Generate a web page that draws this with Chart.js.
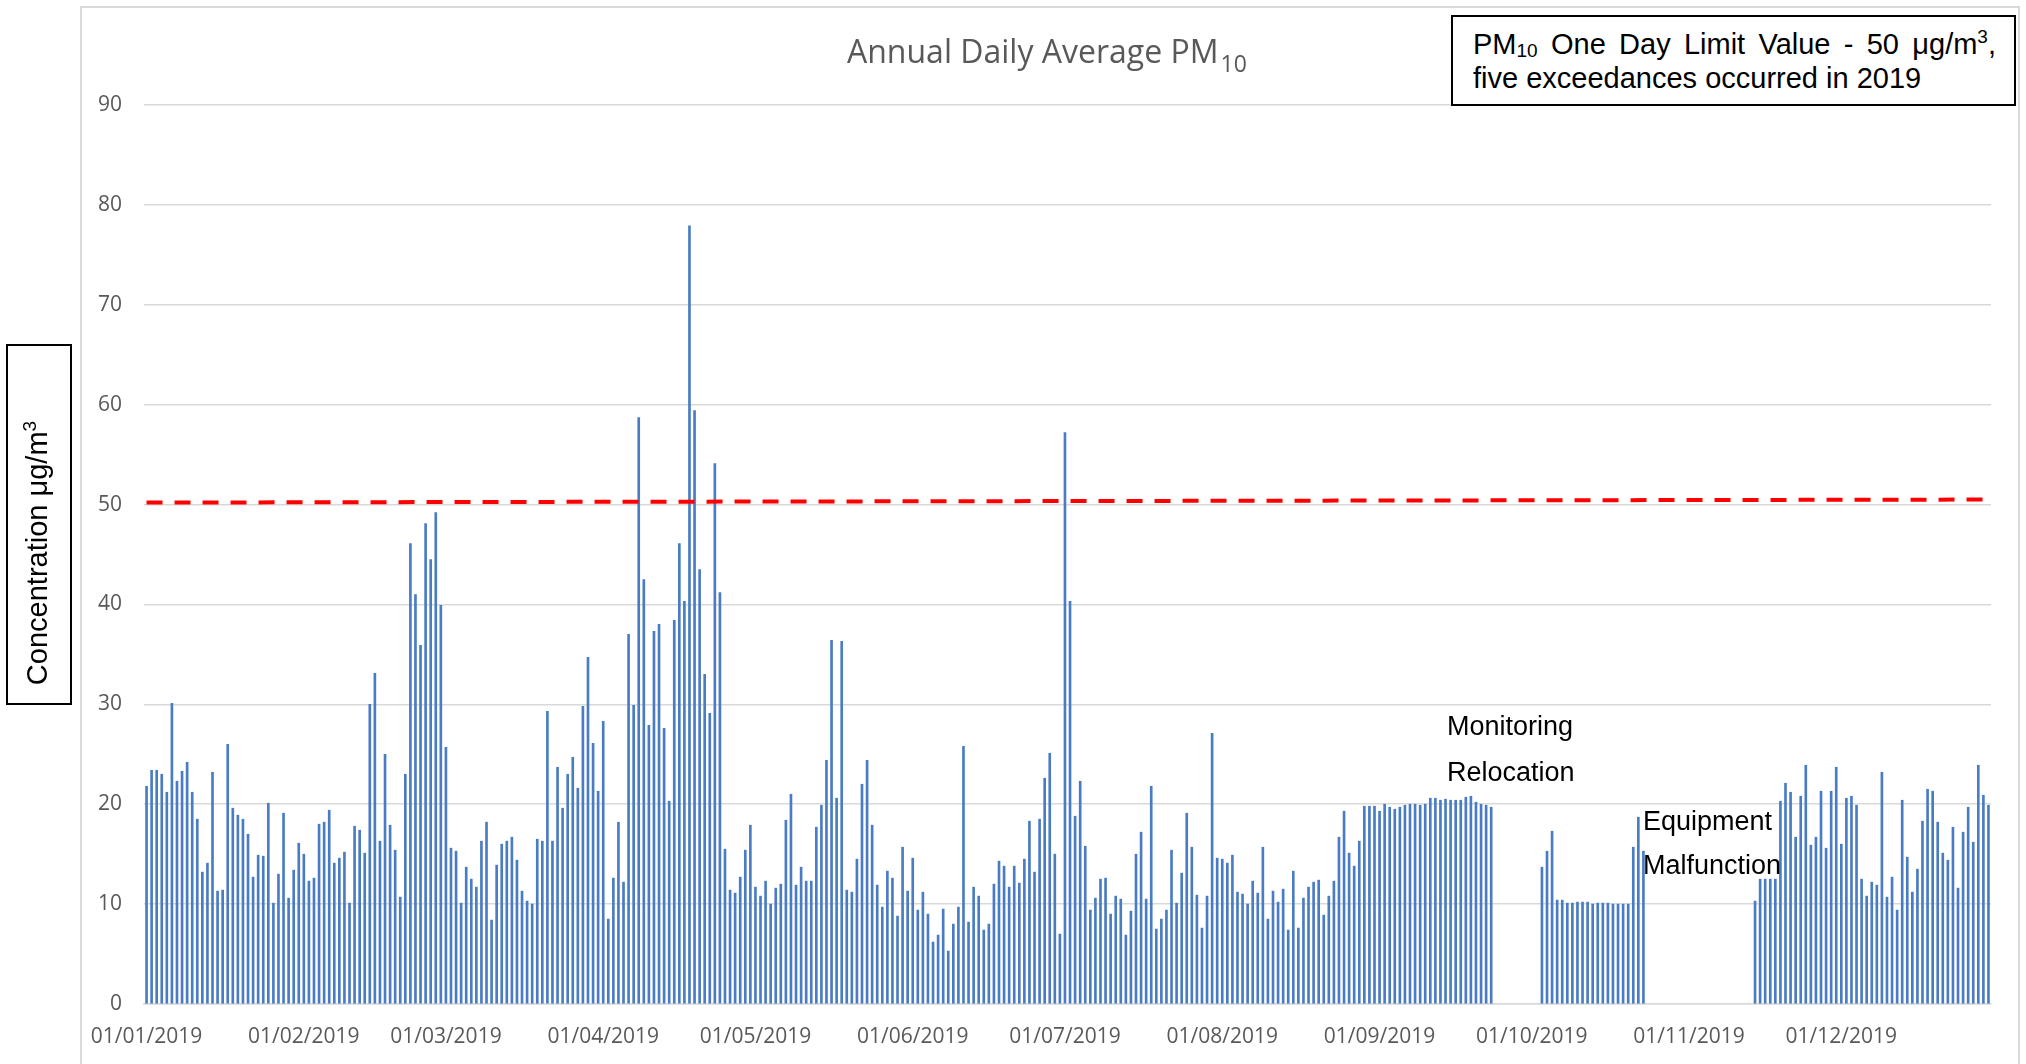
<!DOCTYPE html>
<html>
<head>
<meta charset="utf-8">
<script src="https://cdn.jsdelivr.net/npm/chart.js@4.4.1/dist/chart.umd.min.js"></script>
<style>
  body { margin: 0; background: #fff; }
  #wrap { position: relative; width: 2026px; height: 1064px; overflow: hidden; }
  #frame {
    position: absolute; left: 80px; top: 6px; width: 1940px; height: 1100px;
    border: 2px solid #d9d9d9; box-sizing: border-box;
  }
  #chart { position: absolute; left: 0; top: 0; }
  #title {
    position: absolute; left: 847px; top: 35px; white-space: nowrap;
    font: 32px/32px "Open Sans", sans-serif; color: #595959;
  }
  #title span { font-size: 23px; position: relative; top: 9px; margin-left: 2px; }
  #limitBox {
    position: absolute; left: 1451px; top: 15px; width: 565px; height: 91px;
    border: 2px solid #000; box-sizing: border-box; background: #fff;
    padding: 10px 18px 0 20px;
    font: 29px/34px "Liberation Sans", Arial, sans-serif; color: #000;
  }
  #limitBox .l1 { text-align: justify; text-align-last: justify; }
  #limitBox sub { font-size: 19px; line-height: 0; vertical-align: -3px; }
  #limitBox sup { font-size: 19px; line-height: 0; vertical-align: 11px; }
  #ylab {
    position: absolute; left: 6px; top: 344px; width: 66px; height: 361px;
    border: 2px solid #000; box-sizing: border-box;
  }
  #ylab div {
    position: absolute; left: 25px; top: 207px; white-space: nowrap;
    transform: translate(-50%, -50%) rotate(-90deg);
    font: 29px/29px "Liberation Sans", Arial, sans-serif; color: #000;
  }
  #ylab sup { font-size: 19px; vertical-align: 11px; }
  .note {
    position: absolute; white-space: nowrap;
    font: 27px/27px "Liberation Sans", Arial, sans-serif; color: #000;
  }
</style>
</head>
<body>
<div id="wrap">
  <div id="frame"></div>
  <canvas id="chart" width="2026" height="1064"></canvas>
  <div id="title">Annual Daily Average PM<span>10</span></div>
  <div id="limitBox">
    <div class="l1">PM<sub>10</sub> One Day Limit Value - 50 μg/m<sup>3</sup>,</div>
    <div>five exceedances occurred in 2019</div>
  </div>
  <div id="ylab"><div>Concentration μg/m<sup>3</sup></div></div>
  <div class="note" style="left:1447px;top:713px">Monitoring</div>
  <div class="note" style="left:1447px;top:759px">Relocation</div>
  <div class="note" style="left:1643px;top:808px">Equipment</div>
  <div class="note" style="left:1643px;top:852px">Malfunction</div>
</div>

<script>
// daily PM10 averages, µg/m3 (null = no data)
const jan = [21.8, 23.4, 23.4, 23.0, 21.2, 30.1, 22.3, 23.3, 24.2, 21.2, 18.5, 13.2, 14.1, 23.2, 11.3, 11.4, 26.0, 19.6, 18.9, 18.5, 17.0, 12.7, 14.9, 14.8, 20.1, 10.1, 13.0, 19.1, 10.6, 13.4, 16.1];
const feb = [15.0, 12.3, 12.6, 18.0, 18.2, 19.4, 14.1, 14.6, 15.2, 10.1, 17.8, 17.4, 15.1, 30.0, 33.1, 16.3, 25.0, 17.9, 15.4, 10.7, 23.0, 46.1, 41.0, 35.9, 48.1, 44.5, 49.2, 39.9];
const mar = [25.7, 15.6, 15.3, 10.1, 13.7, 12.5, 11.7, 16.3, 18.2, 8.4, 13.9, 16.0, 16.3, 16.7, 14.4, 11.3, 10.3, 10.0, 16.5, 16.3, 29.3, 16.3, 23.7, 19.6, 23.0, 24.7, 21.6, 29.8, 34.7, 26.1, 21.3];
const apr = [28.3, 8.5, 12.6, 18.2, 12.2, 37.0, 29.9, 58.7, 42.5, 27.9, 37.3, 38.0, 27.6, 20.3, 38.4, 46.1, 40.3, 77.9, 59.4, 43.5, 33.0, 29.1, 54.1, 41.2, 15.5, 11.4, 11.1, 12.7, 15.4, 17.9];
const may = [11.7, 10.8, 12.3, 10.0, 11.6, 12.0, 18.4, 21.0, 11.9, 13.7, 12.3, 12.3, 17.7, 19.9, 24.4, 36.4, 20.6, 36.3, 11.4, 11.2, 14.5, 22.0, 24.4, 17.9, 11.9, 9.7, 13.3, 12.6, 8.8, 15.7, 11.3];
const jun = [14.6, 9.4, 11.2, 9.0, 6.2, 6.9, 9.5, 5.3, 8.0, 9.7, 25.8, 8.2, 11.7, 10.8, 7.4, 8.0, 12.0, 14.3, 13.8, 11.7, 13.8, 12.1, 14.5, 18.3, 13.2, 18.5, 22.6, 25.1, 15.0, 7.0];
const jul = [57.2, 40.3, 18.8, 22.3, 15.8, 9.4, 10.6, 12.5, 12.6, 9.0, 10.8, 10.5, 6.9, 9.3, 15.0, 17.2, 10.5, 21.8, 7.5, 8.5, 9.4, 15.4, 10.1, 13.1, 19.1, 15.7, 10.9, 7.6, 10.8, 27.1, 14.6];
const aug = [14.5, 14.1, 14.9, 11.2, 11.0, 10.0, 12.3, 11.1, 15.7, 8.5, 11.3, 10.2, 11.5, 7.4, 13.3, 7.6, 10.6, 11.7, 12.2, 12.4, 8.9, 10.8, 12.3, 16.7, 19.3, 15.1, 13.8, 16.3, 19.8, 19.8, 19.8];
const sep = [19.3, 20.0, 19.7, 19.5, 19.7, 19.9, 20.0, 20.0, 19.9, 20.0, 20.6, 20.6, 20.4, 20.5, 20.4, 20.4, 20.4, 20.7, 20.8, 20.2, 20.0, 19.9, 19.7, null, null, null, null, null, null, null];
const oct = [null, null, 13.7, 15.3, 17.3, 10.4, 10.4, 10.1, 10.1, 10.2, 10.2, 10.2, 10.0, 10.1, 10.1, 10.1, 10.0, 10.0, 10.0, 10.0, 15.7, 18.7, 15.3, null, null, null, null, null, null, null, null];
const nov = [null, null, null, null, null, null, null, null, null, null, null, null, null, 10.3, 12.5, 12.5, 12.5, 12.5, 20.3, 22.1, 21.2, 16.7, 20.8, 23.9, 15.9, 16.7, 21.3, 15.6, 21.3, 23.7];
const dec = [16.0, 20.6, 20.8, 19.9, 12.5, 10.8, 12.2, 11.9, 23.2, 10.7, 12.7, 9.4, 20.4, 14.7, 11.2, 13.5, 18.3, 21.5, 21.3, 18.2, 15.1, 14.4, 17.7, 11.6, 17.2, 19.7, 16.2, 23.9, 20.9, 19.9];

// limit line (drawn slightly sloped in the original)
const limitDates = ['01/01/2019', '30/12/2019'];
const limitValues = [50.2, 50.5];

const yMin = 0, yMax = 90, yStep = 10;

const daily = [].concat(jan, feb, mar, apr, may, jun, jul, aug, sep, oct, nov, dec);

// dd/mm/yyyy labels for each day
const pad = n => String(n).padStart(2, '0');
const dates = daily.map((v, i) => {
  const d = new Date(Date.UTC(2019, 0, 1 + i));
  return pad(d.getUTCDate()) + '/' + pad(d.getUTCMonth() + 1) + '/' + d.getUTCFullYear();
});
const isMonthStart = i => dates[i] !== undefined && dates[i].startsWith('01/');

Chart.defaults.font.family = '"Open Sans", sans-serif';

new Chart(document.getElementById('chart'), {
  data: {
    labels: dates,
    datasets: [
      {
        type: 'line',
        data: limitDates.map((d, i) => ({ x: d, y: limitValues[i] })),
        borderColor: '#ff0000',
        borderWidth: 4,
        borderDash: [16, 12],
        pointRadius: 0,
        tension: 0,
        order: 0
      },
      {
        type: 'bar',
        data: daily,
        backgroundColor: '#4a7cc4',
        borderWidth: 0,
        barThickness: 2,
        order: 1
      }
    ]
  },
  options: {
    responsive: false,
    animation: false,
    devicePixelRatio: 1,
    layout: { padding: { left: 80, right: 35, top: 105, bottom: 0 } },
    plugins: { legend: { display: false }, tooltip: { enabled: false } },
    scales: {
      x: {
        afterFit: s => { s.height = 60; },
        grid: {
          drawOnChartArea: false,
          drawTicks: true,
          tickLength: 8,
          lineWidth: 1.5,
          color: c => isMonthStart(c.index) ? '#d9d9d9' : 'rgba(0,0,0,0)'
        },
        border: { display: true, color: '#d9d9d9', width: 1.5 },
        ticks: {
          autoSkip: false,
          maxRotation: 0,
          minRotation: 0,
          padding: 12,
          color: '#595959',
          font: { size: 21 },
          callback: function (v, i) { return isMonthStart(i) ? dates[i] : null; }
        }
      },
      y: {
        min: yMin,
        max: yMax,
        afterFit: s => { s.width = 64; },
        grid: { color: '#d9d9d9', lineWidth: 1.5, drawTicks: false },
        border: { display: false },
        ticks: { stepSize: yStep, padding: 22, color: '#595959', font: { size: 21 } }
      }
    }
  }
});
</script>
</body>
</html>
